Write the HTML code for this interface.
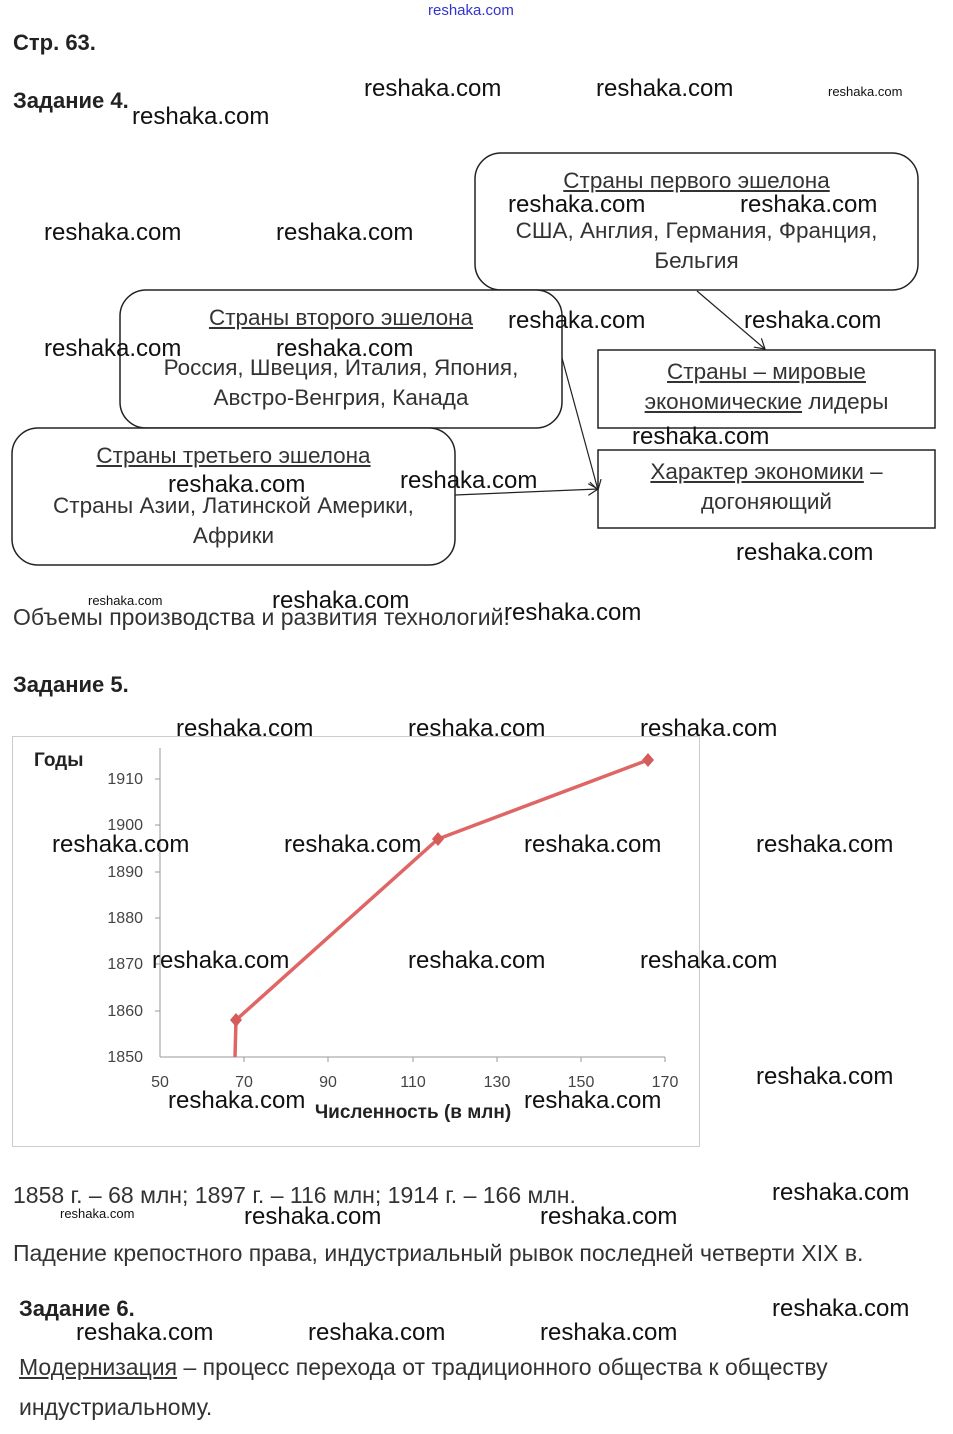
<!DOCTYPE html>
<html><head><meta charset="utf-8"><style>
body{margin:0;width:953px;height:1434px;background:#fff;position:relative;overflow:hidden;font-family:"Liberation Sans",sans-serif;color:#333}
.a{position:absolute;white-space:nowrap}
.w{position:absolute;white-space:nowrap;font-size:24px;line-height:28px;color:#111;font-family:"Liberation Sans",sans-serif}
.ws{position:absolute;white-space:nowrap;font-size:13px;line-height:16px;color:#111}
.t{font-size:22.5px;line-height:30px;color:#333;text-align:center;position:absolute}
.h{font-weight:bold;font-size:22px;color:#222}
u{text-decoration:underline}
</style></head><body>
<div class="a" style="left:428px;top:2px;font-size:15px;color:#3333cc">reshaka.com</div>
<div class="a h" style="left:13px;top:30px">Стр. 63.</div>
<div class="a h" style="left:13px;top:88px">Задание 4.</div>

<svg class="a" style="left:0;top:0" width="953" height="600">
<defs><marker id="m" markerWidth="12" markerHeight="12" refX="10" refY="6" orient="auto" markerUnits="userSpaceOnUse"><path d="M0,0 L10,6 L0,12" fill="none" stroke="#222" stroke-width="1.2"/></marker></defs>
<g fill="#fff" stroke="#222" stroke-width="1.5">
<rect x="475" y="153" width="443" height="137" rx="26"/>
<rect x="120" y="290" width="442" height="138" rx="26"/>
<rect x="12" y="428" width="443" height="137" rx="26"/>
<rect x="598" y="350" width="337" height="78"/>
<rect x="598" y="450" width="337" height="78"/>
</g>
<g stroke="#222" stroke-width="1.2" fill="none">
<line x1="697" y1="291" x2="765" y2="349" marker-end="url(#m)"/>
<line x1="562" y1="358" x2="598" y2="490" marker-end="url(#m)"/>
<line x1="455" y1="495" x2="598" y2="489" marker-end="url(#m)"/>
</g>
</svg>

<div class="t" style="left:475px;width:443px;top:166px"><u>Страны первого эшелона</u></div>
<div class="t" style="left:475px;width:443px;top:216px">США, Англия, Германия, Франция,<br>Бельгия</div>
<div class="t" style="left:120px;width:442px;top:303px"><u>Страны второго эшелона</u></div>
<div class="t" style="left:120px;width:442px;top:353px">Россия, Швеция, Италия, Япония,<br>Австро-Венгрия, Канада</div>
<div class="t" style="left:12px;width:443px;top:441px"><u>Страны третьего эшелона</u></div>
<div class="t" style="left:12px;width:443px;top:491px">Страны Азии, Латинской Америки,<br>Африки</div>
<div class="t" style="left:598px;width:337px;top:357px"><u>Страны – мировые<br>экономические</u> лидеры</div>
<div class="t" style="left:598px;width:337px;top:457px"><u>Характер экономики</u> –<br>догоняющий</div>

<div class="a" style="left:13px;top:604px;font-size:23px">Объемы производства и развития технологий.</div>
<div class="a h" style="left:13px;top:672px">Задание 5.</div>

<svg class="a" style="left:0;top:700px" width="953" height="460">
<rect x="12.5" y="36.5" width="687" height="410" fill="none" stroke="#ccc"/>
<text x="34" y="66" font-family="Liberation Sans" font-weight="bold" font-size="19" fill="#222">Годы</text>
<g font-family="Liberation Sans" font-size="16" fill="#444" text-anchor="end">
<text x="143" y="84">1910</text><text x="143" y="130">1900</text><text x="143" y="177">1890</text>
<text x="143" y="223">1880</text><text x="143" y="269">1870</text><text x="143" y="316">1860</text><text x="143" y="362">1850</text>
</g>
<g stroke="#999" stroke-width="1">
<line x1="160" y1="48" x2="160" y2="357"/><line x1="160" y1="357" x2="665" y2="357"/>
<line x1="155" y1="79" x2="160" y2="79"/><line x1="155" y1="125" x2="160" y2="125"/><line x1="155" y1="172" x2="160" y2="172"/>
<line x1="155" y1="218" x2="160" y2="218"/><line x1="155" y1="264" x2="160" y2="264"/><line x1="155" y1="311" x2="160" y2="311"/>
<line x1="244" y1="357" x2="244" y2="362"/><line x1="328" y1="357" x2="328" y2="362"/><line x1="413" y1="357" x2="413" y2="362"/>
<line x1="497" y1="357" x2="497" y2="362"/><line x1="581" y1="357" x2="581" y2="362"/><line x1="665" y1="357" x2="665" y2="362"/>
</g>
<g font-family="Liberation Sans" font-size="16" fill="#444" text-anchor="middle">
<text x="160" y="387">50</text><text x="244" y="387">70</text><text x="328" y="387">90</text><text x="413" y="387">110</text>
<text x="497" y="387">130</text><text x="581" y="387">150</text><text x="665" y="387">170</text>
</g>
<text x="413" y="418" text-anchor="middle" font-family="Liberation Sans" font-weight="bold" font-size="19" fill="#222">Численность (в млн)</text>
<polyline points="235,357 236,320 438,139 648,60" fill="none" stroke="#e06666" stroke-width="3.5"/>
<g fill="#d65c5c"><path d="M236,313 l6,7 -6,7 -6,-7z"/><path d="M438,132 l6,7 -6,7 -6,-7z"/><path d="M648,53 l6,7 -6,7 -6,-7z"/></g>
</svg>

<div class="a" style="left:13px;top:1182px;font-size:23px">1858 г. – 68 млн; 1897 г. – 116 млн; 1914 г. – 166 млн.</div>
<div class="a" style="left:13px;top:1240px;font-size:23px">Падение крепостного права, индустриальный рывок последней четверти XIX в.</div>
<div class="a h" style="left:19px;top:1296px">Задание 6.</div>
<div class="a" style="left:19px;top:1347px;font-size:23px;line-height:40px"><u>Модернизация</u> – процесс перехода от традиционного общества к обществу<br>индустриальному.</div>

<div class="w" style="left:364px;top:75px">reshaka.com</div>
<div class="w" style="left:596px;top:75px">reshaka.com</div>
<div class="ws" style="left:828px;top:84px">reshaka.com</div>
<div class="w" style="left:132px;top:103px">reshaka.com</div>
<div class="w" style="left:44px;top:219px">reshaka.com</div>
<div class="w" style="left:276px;top:219px">reshaka.com</div>
<div class="w" style="left:508px;top:191px">reshaka.com</div>
<div class="w" style="left:740px;top:191px">reshaka.com</div>
<div class="w" style="left:508px;top:307px">reshaka.com</div>
<div class="w" style="left:744px;top:307px">reshaka.com</div>
<div class="w" style="left:44px;top:335px">reshaka.com</div>
<div class="w" style="left:276px;top:335px">reshaka.com</div>
<div class="w" style="left:632px;top:423px">reshaka.com</div>
<div class="w" style="left:168px;top:471px">reshaka.com</div>
<div class="w" style="left:400px;top:467px">reshaka.com</div>
<div class="w" style="left:736px;top:539px">reshaka.com</div>
<div class="ws" style="left:88px;top:593px">reshaka.com</div>
<div class="w" style="left:272px;top:587px">reshaka.com</div>
<div class="w" style="left:504px;top:599px">reshaka.com</div>
<div class="w" style="left:176px;top:715px">reshaka.com</div>
<div class="w" style="left:408px;top:715px">reshaka.com</div>
<div class="w" style="left:640px;top:715px">reshaka.com</div>
<div class="w" style="left:52px;top:831px">reshaka.com</div>
<div class="w" style="left:284px;top:831px">reshaka.com</div>
<div class="w" style="left:524px;top:831px">reshaka.com</div>
<div class="w" style="left:756px;top:831px">reshaka.com</div>
<div class="w" style="left:152px;top:947px">reshaka.com</div>
<div class="w" style="left:408px;top:947px">reshaka.com</div>
<div class="w" style="left:640px;top:947px">reshaka.com</div>
<div class="w" style="left:756px;top:1063px">reshaka.com</div>
<div class="w" style="left:168px;top:1087px">reshaka.com</div>
<div class="w" style="left:524px;top:1087px">reshaka.com</div>
<div class="w" style="left:772px;top:1179px">reshaka.com</div>
<div class="ws" style="left:60px;top:1206px">reshaka.com</div>
<div class="w" style="left:244px;top:1203px">reshaka.com</div>
<div class="w" style="left:540px;top:1203px">reshaka.com</div>
<div class="w" style="left:772px;top:1295px">reshaka.com</div>
<div class="w" style="left:76px;top:1319px">reshaka.com</div>
<div class="w" style="left:308px;top:1319px">reshaka.com</div>
<div class="w" style="left:540px;top:1319px">reshaka.com</div>
</body></html>
